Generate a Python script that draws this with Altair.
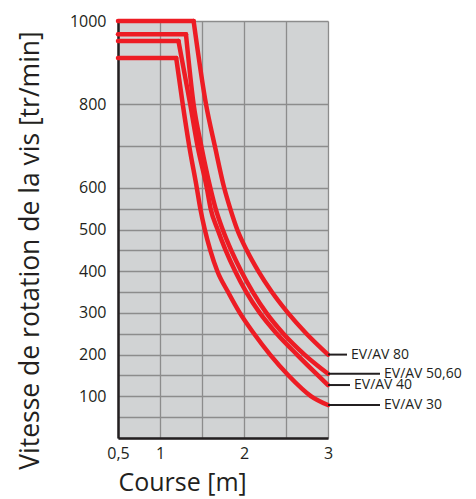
import altair as alt
import pandas as pd

# ---- data ----
series_names = ["EV/AV 80", "EV/AV 50,60", "EV/AV 40", "EV/AV 30"]

x_80 = [0.5, 1.400, 1.548, 1.653, 1.764, 1.836, 1.919, 2.033, 2.170, 2.332, 2.523, 2.744, 3.0]
y_80 = [1000, 1000, 800, 700, 600, 550, 500, 450, 400, 350, 300, 250, 200]

x_50 = [0.5, 1.309, 1.400, 1.492, 1.599, 1.662, 1.746, 1.848, 1.967, 2.105, 2.266, 2.469, 2.720, 3.0]
y_50 = [968, 968, 800, 700, 600, 550, 500, 450, 400, 350, 300, 250, 200, 154]

x_40 = [0.5, 1.220, 1.360, 1.447, 1.557, 1.603, 1.686, 1.782, 1.895, 2.027, 2.188, 2.391, 2.630, 2.881, 3.0]
y_40 = [952, 952, 800, 700, 600, 550, 500, 450, 400, 350, 300, 250, 200, 150, 127]

x_30 = [0.5, 1.193, 1.271, 1.348, 1.438, 1.480, 1.533, 1.599, 1.683, 1.810, 1.950, 2.120, 2.310, 2.530, 2.800, 3.0]
y_30 = [911, 911, 800, 700, 600, 550, 500, 450, 400, 350, 300, 250, 200, 150, 100, 79]

x_ticks = [0.5, 1, 1.5, 2, 2.5, 3]
y_grid = [0, 50, 100, 150, 200, 250, 300, 350, 400, 450, 500, 550, 600, 700, 800, 1000]
y_labels = [100, 200, 300, 400, 500, 600, 800, 1000]

# ---- styling ----
W, H = 210, 417
X_MIN, X_MAX = 0.5, 3.0
PX_PER_UNIT = W / (X_MAX - X_MIN)
leader_px = [19, 52, 22, 52]  # leader line lengths in pixels
RED = "#ed1c24"
FONT = "Open Sans"
TXT = "#231f20"

flat_rows, curve_rows = [], []
for name, xs, ys in [(series_names[0], x_80, y_80), (series_names[1], x_50, y_50),
                     (series_names[2], x_40, y_40), (series_names[3], x_30, y_30)]:
    for i, (xv, yv) in enumerate(zip(xs, ys)):
        rec = {"series": name, "x": xv, "y": yv, "order": i}
        if i <= 1:
            flat_rows.append(rec)
        if i >= 1:
            curve_rows.append(rec)
flat_df = pd.DataFrame(flat_rows)
curve_df = pd.DataFrame(curve_rows)

ends = []
for name, ys, lp in zip(series_names, [y_80, y_50, y_40, y_30], leader_px):
    ends.append({"series": name, "x": X_MAX, "y": ys[-1],
                 "x2": X_MAX + lp / PX_PER_UNIT, "xt": X_MAX + (lp + 4) / PX_PER_UNIT})
ends_df = pd.DataFrame(ends)

x_scale = alt.Scale(domain=[X_MIN, X_MAX], nice=False, zero=False)
y_scale = alt.Scale(domain=[0, 1000], nice=False)

x_axis = alt.Axis(
    values=x_ticks, title="Course [m]", grid=True, gridColor="#8c8c8c", gridWidth=1.3,
    domainColor="#231f20", domainWidth=2.5, ticks=False, labelPadding=7,
    labelExpr="datum.value == 0.5 ? '0,5' : (datum.value % 1 == 0 ? format(datum.value, 'd') : '')",
    labelFont=FONT, labelFontSize=16, labelColor=TXT, labelFlush=False, labelOverlap=False,
    titleFont=FONT, titleFontSize=25, titleFontWeight="normal", titleColor=TXT,
    titleAnchor="start", titlePadding=9,
)
y_axis = alt.Axis(
    values=y_grid, title="Vitesse de rotation de la vis [tr/min]", grid=True,
    gridColor="#8c8c8c", gridWidth=1.3,
    domainColor="#231f20", domainWidth=2.5, ticks=False, labelPadding=12,
    labelExpr="indexof([" + ",".join(str(v) for v in y_labels) + "], datum.value) >= 0 ? format(datum.value, 'd') : ''",
    labelFont=FONT, labelFontSize=16, labelColor=TXT, labelFlush=False, labelOverlap=False,
    titleFont=FONT, titleFontSize=26.5, titleFontWeight="normal", titleColor=TXT,
    titleY=229, titlePadding=25,
)

line_style = dict(color=RED, strokeWidth=4.5, strokeCap="round", strokeJoin="round")

flat = alt.Chart(flat_df).mark_line(**line_style).encode(
    x=alt.X("x:Q", scale=x_scale, axis=x_axis),
    y=alt.Y("y:Q", scale=y_scale, axis=y_axis),
    detail="series:N",
    order="order:Q",
)

curves = alt.Chart(curve_df).mark_line(interpolate="monotone", **line_style).encode(
    x=alt.X("x:Q", scale=x_scale, axis=x_axis),
    y=alt.Y("y:Q", scale=y_scale, axis=y_axis),
    detail="series:N",
    order="order:Q",
)

leaders = alt.Chart(ends_df).mark_rule(color="#231f20", strokeWidth=2).encode(
    x=alt.X("x:Q", scale=x_scale, axis=x_axis), x2="x2:Q",
    y=alt.Y("y:Q", scale=y_scale, axis=y_axis),
)

labels = alt.Chart(ends_df).mark_text(align="left", baseline="middle", font=FONT,
                                      fontSize=14, color=TXT).encode(
    x=alt.X("xt:Q", scale=x_scale, axis=x_axis), y=alt.Y("y:Q", scale=y_scale, axis=y_axis),
    text="series:N",
)

chart = alt.layer(flat, curves, leaders, labels).properties(
    width=W, height=H,
    autosize=alt.AutoSizeParams(type="none"),
    padding={"left": 110, "top": 13, "right": 140, "bottom": 61},
).configure(background="white").configure_view(fill="#d1d3d4", stroke=None)

chart.save("out.html", embed_options={"renderer": "svg", "actions": False})
